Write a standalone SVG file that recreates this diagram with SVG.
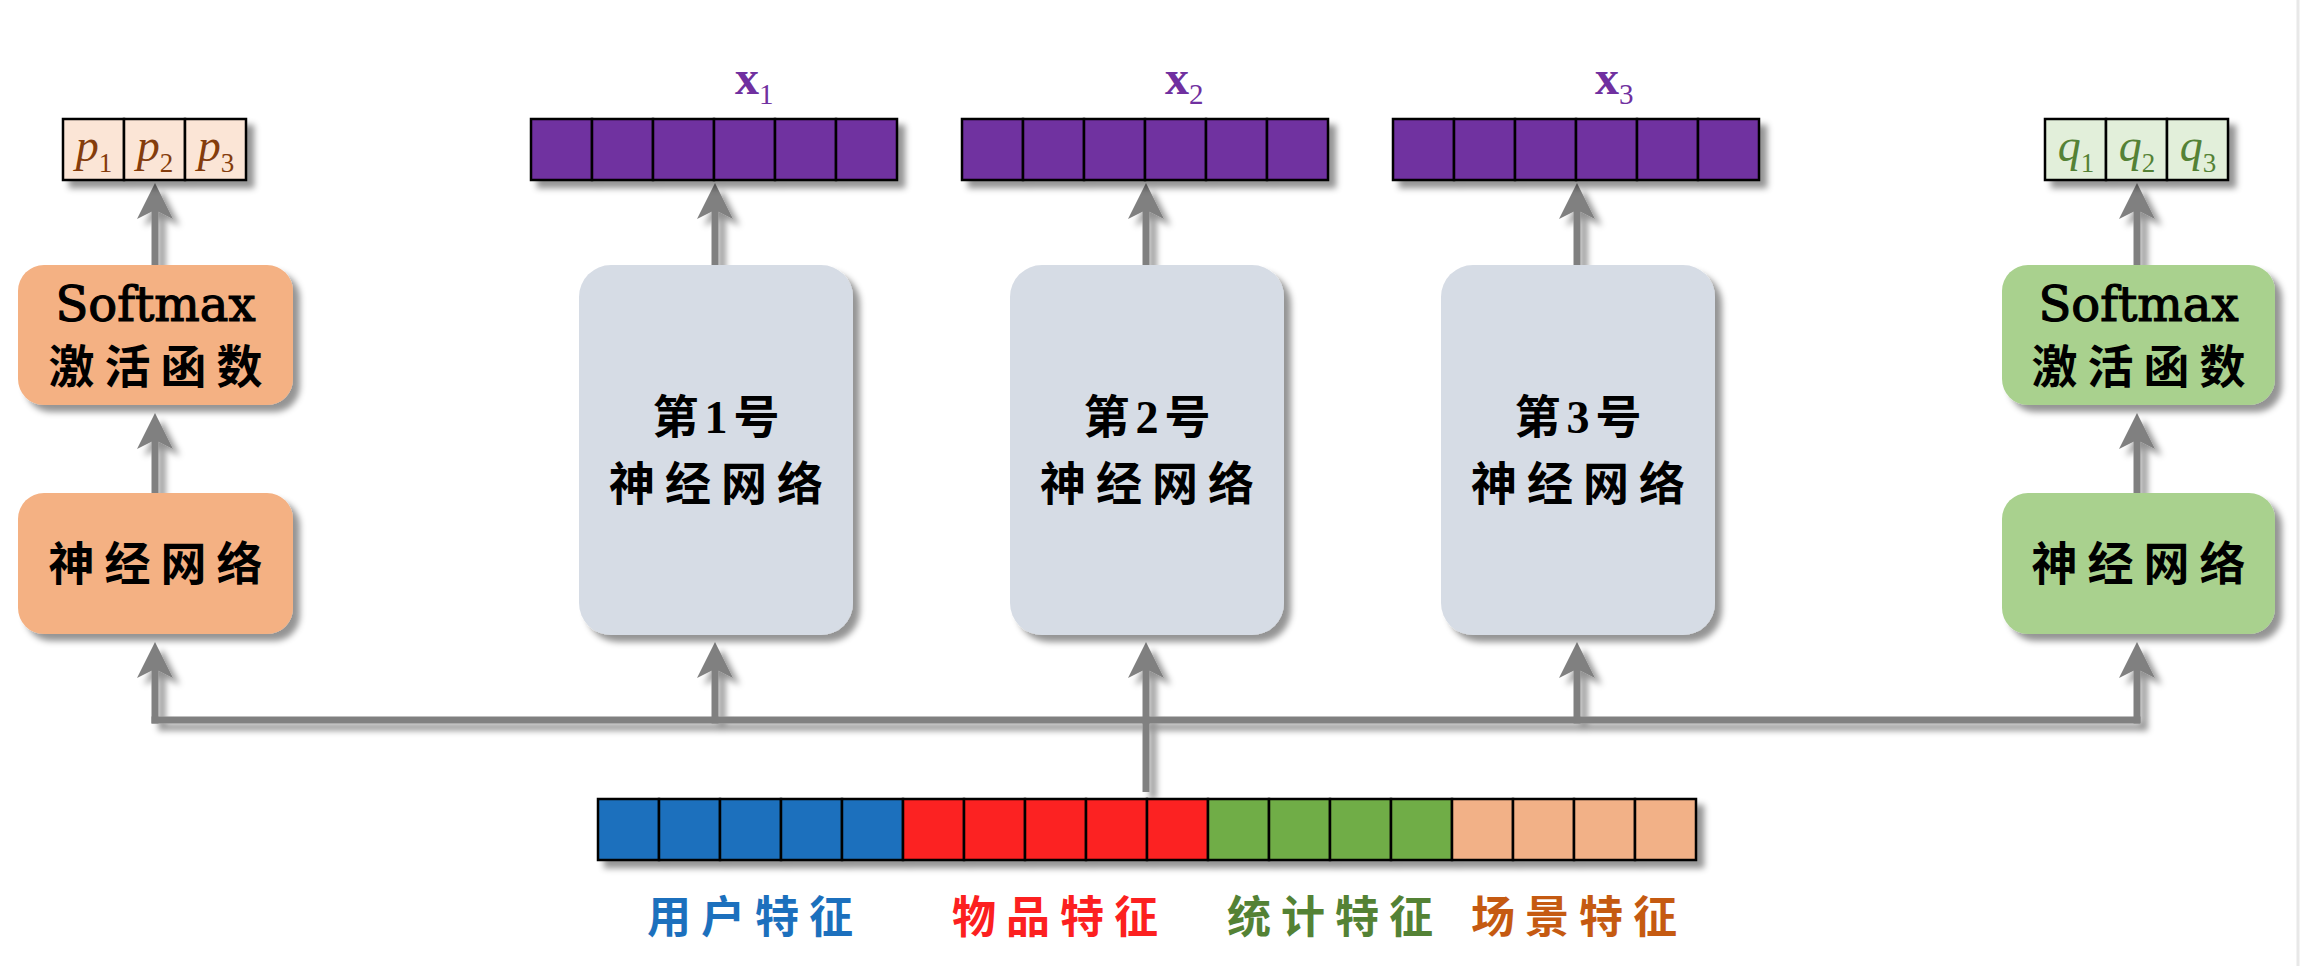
<svg xmlns="http://www.w3.org/2000/svg" width="2300" height="966" viewBox="0 0 2300 966">
<defs>
  <filter id="sh" x="-10%" y="-10%" width="130%" height="140%">
    <feDropShadow dx="7" dy="7" stdDeviation="3" flood-color="#000" flood-opacity="0.42"/>
  </filter>
  <marker id="arr" viewBox="0 0 36 36" markerWidth="36" markerHeight="36" refX="11" refY="18" orient="auto" markerUnits="userSpaceOnUse">
    <path d="M36,18 L0,0 L9,18 L0,36 Z" fill="#808080"/>
  </marker>
</defs>
<style>
  .conn{stroke:#808080;stroke-width:7;fill:none}
  .arrow{marker-end:url(#arr)}
  .cell{stroke:#000;stroke-width:2.5}
  .orange{fill:#F4B183}
  .green{fill:#A9D18E}
  .gray{fill:#D6DCE5}
  .purple{fill:#7030A0}
  .cjk{font-family:"Noto Sans CJK SC","Noto Sans CJK TC",sans-serif;font-weight:700;font-size:46px;letter-spacing:10px;text-anchor:middle;fill:#000}
  .cjkmix{font-family:"Liberation Serif","Noto Sans CJK SC",serif;font-weight:700;font-size:46px;letter-spacing:6px;text-anchor:middle;fill:#000}
  .soft{font-family:"DejaVu Serif","Liberation Serif",serif;font-size:48px;text-anchor:middle;fill:#000;stroke:#000;stroke-width:1.2px}
  .math{font-family:"Liberation Serif",serif;font-size:46px;text-anchor:middle}
  .vec{font-family:"Liberation Serif",serif;font-size:48px;font-weight:700;fill:#7030A0}
  .lab{font-family:"Noto Sans CJK SC",sans-serif;font-weight:700;font-size:44px;letter-spacing:10px;text-anchor:middle}
</style>
<rect x="0" y="0" width="2300" height="966" fill="#fff"/>
<line x1="2298" y1="0" x2="2298" y2="966" stroke="#E8E8E8" stroke-width="3"/>

<g id="connectors" filter="url(#sh)">
  <line class="conn" x1="151.5" y1="720" x2="2140.5" y2="720"/>
  <line class="conn" x1="1146" y1="720" x2="1146" y2="792"/>
  <line class="conn arrow" x1="155" y1="723.5" x2="155" y2="667"/>
  <line class="conn arrow" x1="715" y1="723.5" x2="715" y2="667"/>
  <line class="conn arrow" x1="1146" y1="723.5" x2="1146" y2="667"/>
  <line class="conn arrow" x1="1577" y1="723.5" x2="1577" y2="667"/>
  <line class="conn arrow" x1="2137" y1="723.5" x2="2137" y2="667"/>
  <line class="conn arrow" x1="155" y1="493" x2="155" y2="438"/>
  <line class="conn arrow" x1="155" y1="265" x2="155" y2="208"/>
  <line class="conn arrow" x1="2137" y1="493" x2="2137" y2="438"/>
  <line class="conn arrow" x1="2137" y1="265" x2="2137" y2="208"/>
  <line class="conn arrow" x1="715" y1="265" x2="715" y2="208"/>
  <line class="conn arrow" x1="1146" y1="265" x2="1146" y2="208"/>
  <line class="conn arrow" x1="1577" y1="265" x2="1577" y2="208"/>
</g>

<g id="p-vector">
  <g filter="url(#sh)">
    <rect class="cell" x="63" y="119" width="61" height="61" fill="#FBE5D6"/>
    <rect class="cell" x="124" y="119" width="61" height="61" fill="#FBE5D6"/>
    <rect class="cell" x="185" y="119" width="61" height="61" fill="#FBE5D6"/>
  </g>
  <g class="math" fill="#843C0C">
    <text x="94" y="161"><tspan font-style="italic">p</tspan><tspan font-size="27" dy="11">1</tspan></text>
    <text x="155" y="161"><tspan font-style="italic">p</tspan><tspan font-size="27" dy="11">2</tspan></text>
    <text x="216" y="161"><tspan font-style="italic">p</tspan><tspan font-size="27" dy="11">3</tspan></text>
  </g>
</g>

<g id="left-softmax">
  <rect class="orange" x="18" y="265" width="275" height="140" rx="26" filter="url(#sh)"/>
  <text class="soft" x="155.5" y="321">Softmax</text>
  <text class="cjk" x="160.5" y="383">激活函数</text>
</g>

<g id="left-nn">
  <rect class="orange" x="18" y="493" width="275" height="141" rx="26" filter="url(#sh)"/>
  <text class="cjk" x="160.5" y="580">神经网络</text>
</g>

<g id="x1-vector">
  <g filter="url(#sh)">
    <rect class="cell purple" x="531" y="119" width="61" height="61"/>
    <rect class="cell purple" x="592" y="119" width="61" height="61"/>
    <rect class="cell purple" x="653" y="119" width="61" height="61"/>
    <rect class="cell purple" x="714" y="119" width="61" height="61"/>
    <rect class="cell purple" x="775" y="119" width="61" height="61"/>
    <rect class="cell purple" x="836" y="119" width="61" height="61"/>
  </g>
  <text class="vec" x="735" y="94">x<tspan font-weight="400" font-size="29" dy="10">1</tspan></text>
</g>

<g id="x2-vector">
  <g filter="url(#sh)">
    <rect class="cell purple" x="962" y="119" width="61" height="61"/>
    <rect class="cell purple" x="1023" y="119" width="61" height="61"/>
    <rect class="cell purple" x="1084" y="119" width="61" height="61"/>
    <rect class="cell purple" x="1145" y="119" width="61" height="61"/>
    <rect class="cell purple" x="1206" y="119" width="61" height="61"/>
    <rect class="cell purple" x="1267" y="119" width="61" height="61"/>
  </g>
  <text class="vec" x="1165" y="94">x<tspan font-weight="400" font-size="29" dy="10">2</tspan></text>
</g>

<g id="x3-vector">
  <g filter="url(#sh)">
    <rect class="cell purple" x="1393" y="119" width="61" height="61"/>
    <rect class="cell purple" x="1454" y="119" width="61" height="61"/>
    <rect class="cell purple" x="1515" y="119" width="61" height="61"/>
    <rect class="cell purple" x="1576" y="119" width="61" height="61"/>
    <rect class="cell purple" x="1637" y="119" width="61" height="61"/>
    <rect class="cell purple" x="1698" y="119" width="61" height="61"/>
  </g>
  <text class="vec" x="1595" y="94">x<tspan font-weight="400" font-size="29" dy="10">3</tspan></text>
</g>

<g id="nn-1">
  <rect class="gray" x="579" y="265" width="274" height="370" rx="32" filter="url(#sh)"/>
  <text class="cjkmix" x="719" y="433">第1号</text>
  <text class="cjk" x="721" y="500">神经网络</text>
</g>
<g id="nn-2">
  <rect class="gray" x="1010" y="265" width="274" height="370" rx="32" filter="url(#sh)"/>
  <text class="cjkmix" x="1150" y="433">第2号</text>
  <text class="cjk" x="1152" y="500">神经网络</text>
</g>
<g id="nn-3">
  <rect class="gray" x="1441" y="265" width="274" height="370" rx="32" filter="url(#sh)"/>
  <text class="cjkmix" x="1581" y="433">第3号</text>
  <text class="cjk" x="1583" y="500">神经网络</text>
</g>

<g id="q-vector">
  <g filter="url(#sh)">
    <rect class="cell" x="2045" y="119" width="61" height="61" fill="#E2EFDA"/>
    <rect class="cell" x="2106" y="119" width="61" height="61" fill="#E2EFDA"/>
    <rect class="cell" x="2167" y="119" width="61" height="61" fill="#E2EFDA"/>
  </g>
  <g class="math" fill="#548235">
    <text x="2076" y="161"><tspan font-style="italic">q</tspan><tspan font-size="27" dy="11">1</tspan></text>
    <text x="2137" y="161"><tspan font-style="italic">q</tspan><tspan font-size="27" dy="11">2</tspan></text>
    <text x="2198" y="161"><tspan font-style="italic">q</tspan><tspan font-size="27" dy="11">3</tspan></text>
  </g>
</g>

<g id="right-softmax">
  <rect class="green" x="2002" y="265" width="273" height="140" rx="26" filter="url(#sh)"/>
  <text class="soft" x="2138.5" y="321">Softmax</text>
  <text class="cjk" x="2143.5" y="383">激活函数</text>
</g>

<g id="right-nn">
  <rect class="green" x="2002" y="493" width="273" height="141" rx="26" filter="url(#sh)"/>
  <text class="cjk" x="2143.5" y="580">神经网络</text>
</g>

<g id="feature-vector">
  <g filter="url(#sh)">
    <rect class="cell" x="598" y="799" width="61" height="61" fill="#1C70BD"/>
    <rect class="cell" x="659" y="799" width="61" height="61" fill="#1C70BD"/>
    <rect class="cell" x="720" y="799" width="61" height="61" fill="#1C70BD"/>
    <rect class="cell" x="781" y="799" width="61" height="61" fill="#1C70BD"/>
    <rect class="cell" x="842" y="799" width="61" height="61" fill="#1C70BD"/>
    <rect class="cell" x="903" y="799" width="61" height="61" fill="#FC2020"/>
    <rect class="cell" x="964" y="799" width="61" height="61" fill="#FC2020"/>
    <rect class="cell" x="1025" y="799" width="61" height="61" fill="#FC2020"/>
    <rect class="cell" x="1086" y="799" width="61" height="61" fill="#FC2020"/>
    <rect class="cell" x="1147" y="799" width="61" height="61" fill="#FC2020"/>
    <rect class="cell" x="1208" y="799" width="61" height="61" fill="#70AD47"/>
    <rect class="cell" x="1269" y="799" width="61" height="61" fill="#70AD47"/>
    <rect class="cell" x="1330" y="799" width="61" height="61" fill="#70AD47"/>
    <rect class="cell" x="1391" y="799" width="61" height="61" fill="#70AD47"/>
    <rect class="cell" x="1452" y="799" width="61" height="61" fill="#F2B187"/>
    <rect class="cell" x="1513" y="799" width="61" height="61" fill="#F2B187"/>
    <rect class="cell" x="1574" y="799" width="61" height="61" fill="#F2B187"/>
    <rect class="cell" x="1635" y="799" width="61" height="61" fill="#F2B187"/>
  </g>
  <text class="lab" x="755" y="933" fill="#1C70BD">用户特征</text>
  <text class="lab" x="1060" y="933" fill="#FC2020">物品特征</text>
  <text class="lab" x="1335" y="933" fill="#548235">统计特征</text>
  <text class="lab" x="1579" y="933" fill="#C55A11">场景特征</text>
</g>
</svg>
